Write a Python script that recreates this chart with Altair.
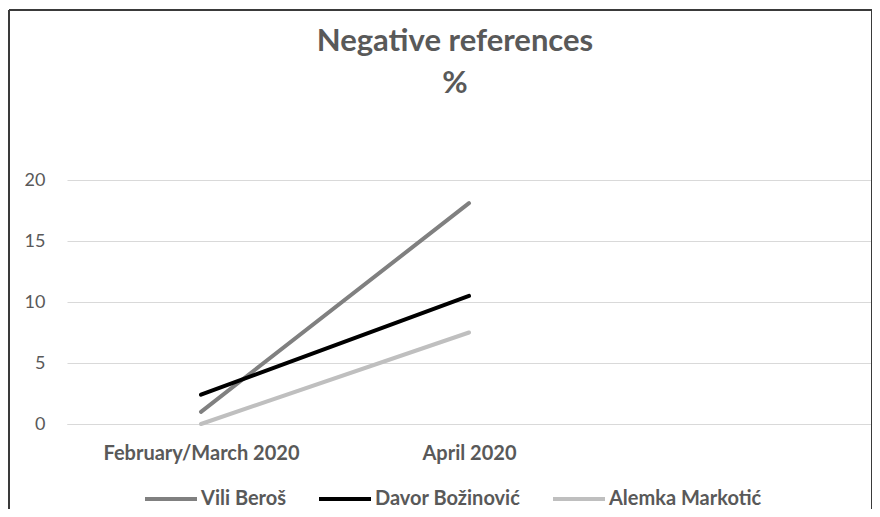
import altair as alt
import pandas as pd

periods = ["February/March 2020", "April 2020"]
x_domain = ["February/March 2020", "April 2020", ""]
people = ["Vili Beroš", "Davor Božinović", "Alemka Markotić"]
colors = ["#808080", "#000000", "#BFBFBF"]
vili = [1.0, 18.1]
davor = [2.4, 10.5]
alemka = [0.0, 7.5]

rows = []
for name, vals in zip(people, [vili, davor, alemka]):
    for p, v in zip(periods, vals):
        rows.append({"period": p, "person": name, "value": v})
df = pd.DataFrame(rows)

W, H = 804, 244
FONT = "Lato"
GRAY = "#595959"

lines = alt.Chart(df).mark_line(strokeWidth=4, strokeCap="round").encode(
    x=alt.X("period:N", scale=alt.Scale(type="point", domain=x_domain, padding=0.5),
            axis=alt.Axis(title=None, labelFont=FONT, labelLimit=400,
                          labelFontSize=20, labelFontWeight="bold", labelColor=GRAY,
                          labelPadding=19, ticks=False, domain=True, domainColor="#D9D9D9",
                          grid=False, labelAngle=0)),
    y=alt.Y("value:Q", scale=alt.Scale(domain=[0, 20], nice=False),
            axis=alt.Axis(title=None, values=[0, 5, 10, 15, 20], labelFont=FONT,
                          labelFontSize=18, labelColor=GRAY, labelPadding=22,
                          ticks=False, domain=False, grid=True, gridColor="#D9D9D9",
                          gridWidth=1)),
    color=alt.Color("person:N", scale=alt.Scale(domain=people, range=colors),
                    legend=alt.Legend(title=None, orient="none", direction="horizontal",
                                      legendX=76, legendY=291, symbolType="stroke",
                                      symbolSize=2704, symbolStrokeWidth=4,
                                      labelOffset=2, columnPadding=24, labelFont=FONT,
                                      labelFontSize=20, labelFontWeight="bold",
                                      labelColor=GRAY, labelLimit=400)),
    detail="person:N",
)

frame_left = alt.Chart(df).mark_rule(color="#3a3a3a", strokeWidth=2).encode(
    x=alt.value(-58), y=alt.value(-170), y2=alt.value(330))
frame_top = alt.Chart(df).mark_rule(color="#3a3a3a", strokeWidth=2).encode(
    x=alt.value(-58), x2=alt.value(W + 1), y=alt.value(-170))
frame_right = alt.Chart(df).mark_rule(color="#3a3a3a", strokeWidth=2).encode(
    x=alt.value(W + 1), y=alt.value(-170), y2=alt.value(330))

chart = alt.layer(lines, frame_left, frame_top, frame_right).properties(
    width=W, height=H,
    title=alt.TitleParams(text=["Negative references", "%"], font=FONT, fontSize=31,
                          fontWeight="bold", color=GRAY, anchor="middle", dx=-14,
                          lineHeight=42, offset=-91),
    padding={"left": 59, "top": 172, "right": 1, "bottom": 85},
    autosize=alt.AutoSizeParams(type="none"),
).configure_view(stroke=None)

chart.save("out.html", embed_options={"renderer": "svg", "actions": False})
